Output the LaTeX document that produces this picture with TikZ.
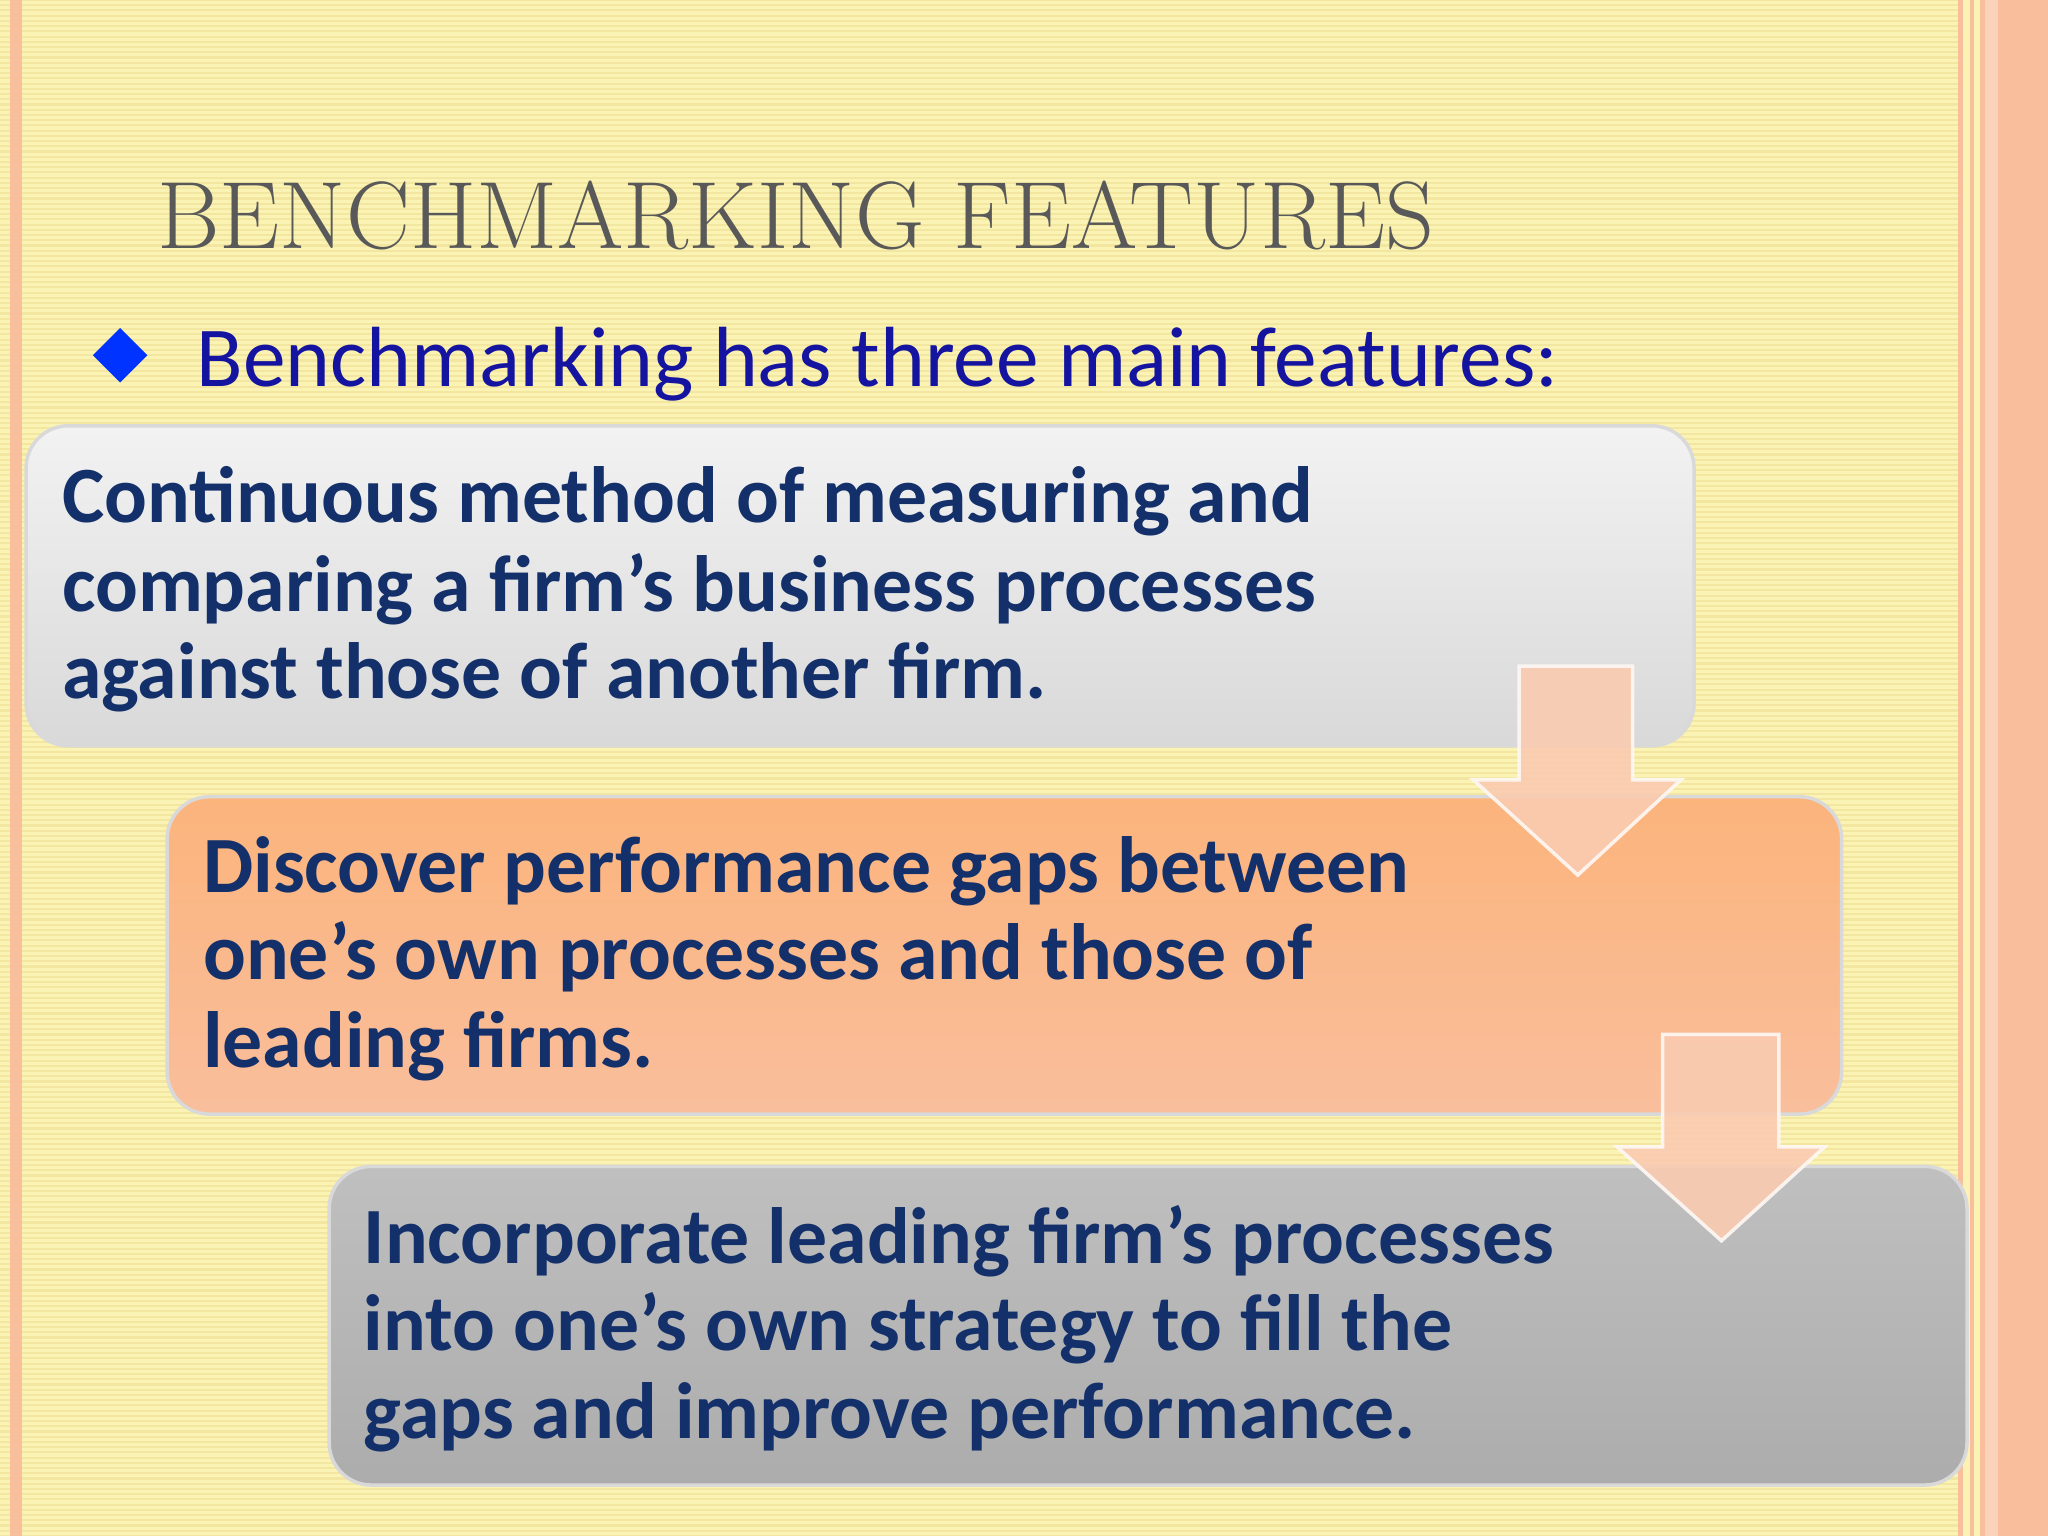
\documentclass[tikz,border=0pt]{standalone}
\usepackage{fontspec}
\setsansfont{Carlito}
\usetikzlibrary{shapes.geometric}
\definecolor{bgy}{HTML}{FBF3B4}
\definecolor{bgl}{HTML}{F3E6A0}
\definecolor{peach}{HTML}{F9BE9C}
\definecolor{navy}{HTML}{13306A}
\definecolor{blu}{HTML}{1414A0}
\definecolor{ttl}{HTML}{595959}
\tikzset{
 boxtxt/.style={anchor=base west,font=\sffamily\bfseries\fontsize{22.7}{24}\selectfont,text=navy,inner sep=0pt},
 fbox/.style={rounded corners=12pt,draw=white!85!black,line width=1pt},
 arr/.style={fill=peach!80!white,draw=white!90!peach,line width=1pt,opacity=0.9}
}
\begin{document}
\begin{tikzpicture}[x=0.013061cm,y=-0.013061cm]
\useasboundingbox (0,0) rectangle (1568,1176);
\fill[bgy] (0,0) rectangle (1568,1176);
\foreach \i in {0,4,...,1176} \draw[bgl,line width=0.6pt] (0,\i) -- (1500,\i);
\fill[peach] (8,0) rectangle (17,1176);
\fill[peach] (1499,0) rectangle (1503,1176);
\fill[peach] (1508,0) rectangle (1511,1176);
\fill[peach] (1516,0) rectangle (1568,1176);
\fill[peach!70!white] (1520,0) rectangle (1530,1176);
\node[anchor=base west,inner sep=0pt,font=\fontsize{27.2}{30}\selectfont,text=ttl] (title) at (120,190) {BENCHMARKING FEATURES};
\node[diamond,fill=blue!80!cyan,minimum width=0.55cm,minimum height=0.55cm,inner sep=0pt] (bul) at (92,272) {};
\node[anchor=base west,inner sep=0pt,font=\sffamily\fontsize{24.3}{26}\selectfont,text=blu] (sub) at (150,296) {Benchmarking has three main features:};
\shade[fbox,top color=white!90!gray,bottom color=gray!30!white] (20,326) rectangle (1297,571);
\shade[fbox,top color=orange!30!peach!90!white,bottom color=peach] (128,610) rectangle (1410,853);
\shade[fbox,top color=gray!50!white,bottom color=gray!65!white] (252,893) rectangle (1506,1137);
\node[boxtxt] (t1) at (47,400) {Continuous method of measuring and};
\node[boxtxt] (t1b) at (47,468) {comparing a firm’s business processes};
\node[boxtxt] (t1c) at (47,535) {against those of another firm.};
\node[boxtxt] (t2) at (155,683) {Discover performance gaps between};
\node[boxtxt] (t2b) at (155,750) {one’s own processes and those of};
\node[boxtxt] (t2c) at (155,817) {leading firms.};
\node[boxtxt] (t3) at (278,967) {Incorporate leading firm’s processes};
\node[boxtxt] (t3b) at (278,1034) {into one’s own strategy to fill the};
\node[boxtxt] (t3c) at (278,1101) {gaps and improve performance.};
\filldraw[arr] (1163,510) -- (1250,510) -- (1250,597) -- (1287,597) -- (1208,670) -- (1128,597) -- (1163,597) -- cycle;
\filldraw[arr] (1273,792) -- (1362,792) -- (1362,878) -- (1397,878) -- (1318,950) -- (1238,878) -- (1273,878) -- cycle;
\end{tikzpicture}
\end{document}
